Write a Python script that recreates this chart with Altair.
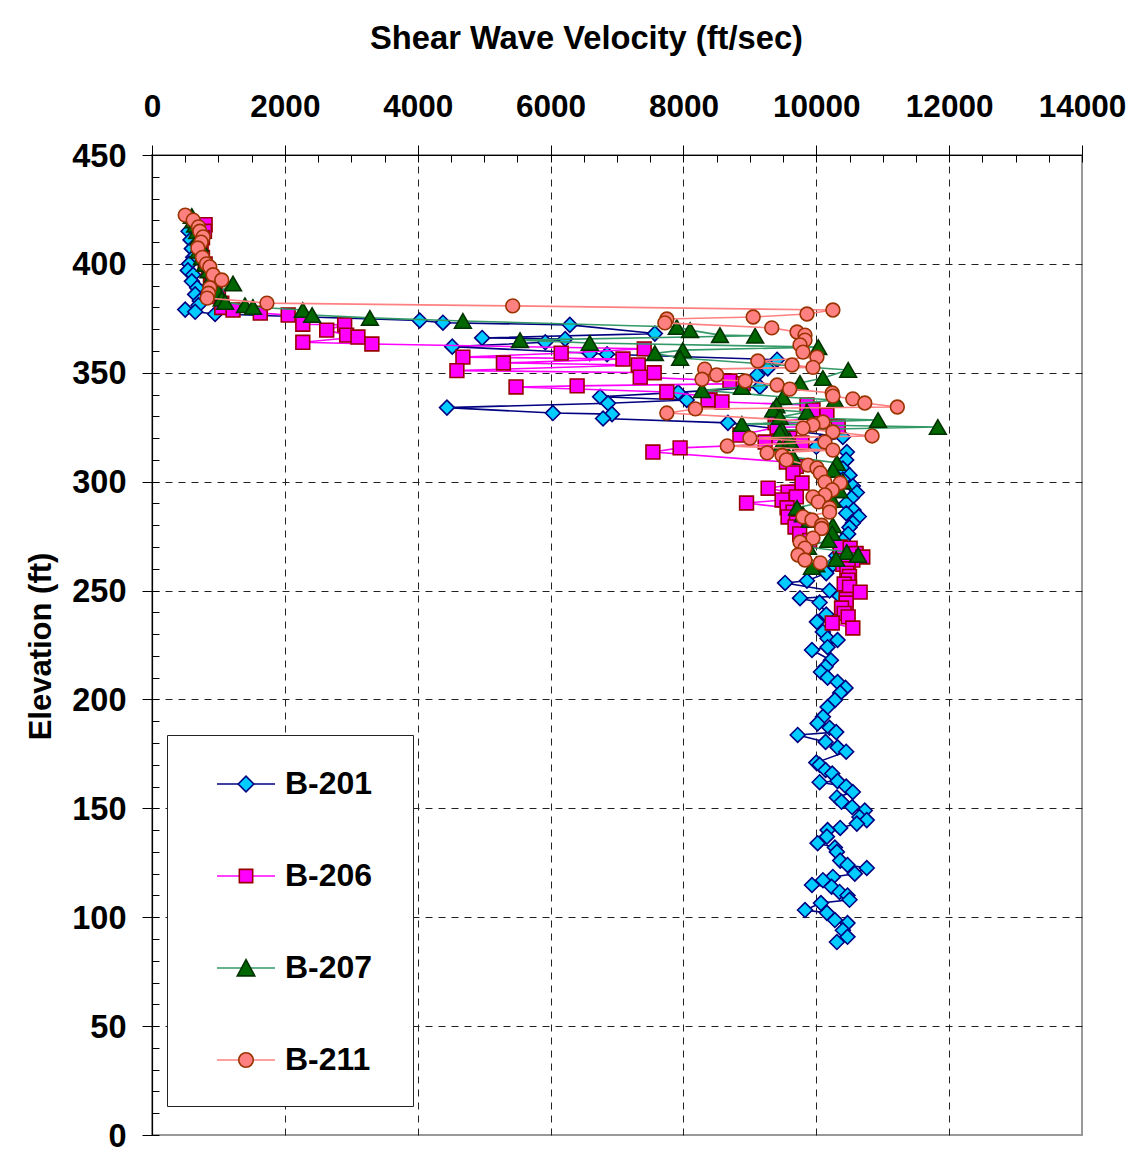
import altair as alt
import pandas as pd

series_names = ["B-201", "B-206", "B-207", "B-211"]

b201_elev = [415, 411, 407, 403, 400, 397, 395, 392, 389, 386, 383, 381, 379, 378, 377, 374, 373, 372, 368, 366,
             365.5, 364, 362, 359, 358.5, 356, 352, 349, 343.5, 341, 339, 337.5, 336, 334, 331.5, 331, 329, 327, 320.5, 318,
             316, 313.6, 310, 306, 303, 301, 298, 295, 292.5, 290, 287, 285.5, 284, 281, 279, 276, 273, 270, 266, 262,
             258, 254.5, 253.5, 250, 247.5, 246.5, 244.5, 239, 235.6, 231, 228, 227.3, 224, 222.7, 218, 215, 212.6, 210, 208, 205.3,
             203, 199.7, 196.5, 192, 189, 187, 185, 183.7, 180.5, 178, 176, 171, 170, 167.6, 166, 162.5, 162, 160, 157.5, 155,
             153, 150.6, 149, 146, 144.6, 143, 141, 140, 137, 134, 132, 130, 126, 124, 122.6, 120, 118.5, 117, 114.8, 114,
             111.6, 110, 108, 106.5, 103.3, 102, 98.7, 97.3, 94, 91, 88.6]
b201_vel = [550, 580, 600, 620, 560, 540, 620, 600, 680, 650, 720, 700, 500, 650, 950, 4030, 4380, 6290, 7570, 4970,
            6220, 5920, 4520, 6590, 6850, 9410, 9270, 9110, 9150, 7920, 6745, 8050, 6865, 4440, 6035, 6925, 6790, 8670, 10400, 10060,
            10000, 10460, 10450, 10400, 10500, 10400, 10550, 10610, 10530, 10450, 10560, 10450, 10640, 10550, 10500, 10480, 10400, 10350, 10300, 10250,
            10150, 9860, 9530, 10200, 10350, 9755, 10050, 10150, 10010, 10100, 10170, 10320, 10170, 9935, 10220, 10140, 10070, 10170, 10320, 10440,
            10360, 10280, 10170, 10100, 10020, 10200, 10300, 9720, 10140, 10320, 10450, 10000, 10050, 10140, 10240, 10320, 10050, 10450, 10550, 10310,
            10380, 10540, 10730, 10650, 10760, 10610, 10360, 10170, 10160, 10020, 10280, 10310, 10360, 10470, 10760, 10580, 10250, 10100, 9935, 10230,
            10350, 10470, 10500, 10070, 9830, 10160, 10280, 10470, 10400, 10470, 10310]

b206_elev = [418, 415, 412, 409, 406, 403, 400, 397, 394, 391, 388, 385, 382, 380, 378.8, 377.4, 376.5, 372.3, 372, 369.6,
             367.3, 366.4, 364, 363.2, 361, 359, 357.2, 356.3, 354.5, 353.6, 351, 350, 348, 346.2, 345, 344, 343.5, 341.2, 339, 337.5,
             336.6, 335.2, 333, 330.6, 327, 325.3, 325, 321.4, 320, 318.2, 317.8, 315.5, 313.6, 309, 307, 304, 299.4, 297, 295.2, 293,
             291.6, 290.2, 288, 286, 283.8, 281, 279.2, 276, 273, 270, 269.5, 267, 265.4, 264, 262, 260, 258, 256.5, 254.8, 253,
             251.6, 249.3, 246, 244.3, 242, 239.5, 237.9, 235.1, 232.8]
b206_vel = [800, 790, 760, 740, 720, 760, 800, 850, 880, 900, 950, 1000, 1050, 1050, 1220, 1630, 2050, 2270, 2900, 2630,
            2930, 3100, 2270, 3310, 7410, 6160, 4680, 7090, 5290, 7320, 4590, 7560, 7350, 8700, 8900, 6400, 5480, 7750, 8400, 8370,
            8580, 9860, 9950, 10160, 9380, 10330, 9410, 8850, 9600, 9230, 9785, 7950, 7540, 9550, 9700, 9650, 9785, 9275, 9575, 9700,
            9485, 8950, 9560, 9650, 9575, 9700, 9680, 9750, 9900, 10360, 10510, 10600, 10700, 10550, 10400, 10480, 10460, 10500, 10480, 10420,
            10500, 10660, 10450, 10450, 10380, 10420, 10480, 10240, 10550]

b207_elev = [422, 420, 418, 415, 412, 409, 406, 403, 400, 397, 394, 391, 387, 384, 382.5, 381, 380.2, 378.8, 376.5, 375.2,
             373.8, 371, 369.6, 367.3, 367, 365, 363.7, 361.8, 360.4, 359, 356.8, 351.3, 347.6, 345.3, 343.5, 342, 338.9, 337.5, 335, 333,
             332, 329.7, 328.3, 326.5, 325.1, 323.7, 322.8, 319, 316, 313.2, 311.3, 308.6, 305.4, 300, 296, 291.6, 288, 285, 282.4, 280,
             276.4, 273.2, 270, 267.7, 266.3, 264.5, 262, 260.8]
b207_vel = [600, 620, 650, 680, 700, 720, 700, 750, 800, 850, 900, 1220, 1000, 1050, 1100, 1400, 1520, 2270, 2410, 3280,
            4680, 7900, 8100, 8550, 9080, 5540, 6590, 10030, 7990, 7570, 7950, 10480, 10100, 9755, 8880, 8280, 9500, 10280, 9400, 9350,
            9860, 9450, 10930, 8880, 11830, 9485, 9450, 9600, 9450, 9560, 9650, 10310, 10250, 10400, 10350, 10240, 9710, 9800, 9905, 10250,
            10240, 10180, 9875, 10460, 10630, 10300, 10000, 9935]

b211_elev = [422.4, 420.1, 417, 415, 412.4, 410, 407.3, 403, 400, 398.6, 395, 392.6, 389, 386.5, 384.3, 382, 380.7, 378.8, 377, 375.6,
             374.7, 372.9, 370.6, 368.7, 367.3, 365, 362.8, 359.5, 357.2, 355.4, 353.6, 352.5, 351.7, 349, 347, 346.2, 344.4, 342.5, 340.7, 339.3,
             338, 336.1, 334.3, 333.4, 331.5, 327.4, 326, 324.6, 322.8, 321, 320, 318.2, 316.4, 314.5, 313.2, 312, 310, 307.6, 306.3, 304,
             299.8, 299.4, 296.2, 293.9, 293, 290.7, 288, 286, 283.8, 282.4, 280, 278.5, 274.1, 272.3, 269.5, 266.3, 264, 262.7]
b211_vel = [500, 620, 700, 720, 770, 740, 690, 760, 820, 870, 920, 1050, 870, 850, 830, 1730, 5430, 10250, 9860, 9050,
            7750, 7720, 9330, 9710, 9830, 9830, 9755, 9800, 10010, 9120, 9635, 9950, 8320, 8500, 8280, 8930, 9410, 9600, 10240, 10250,
            10550, 10730, 11220, 8180, 7750, 10100, 9950, 9800, 10250, 10840, 9000, 10130, 8660, 10250, 9260, 9485, 9550, 9875, 10010, 10060,
            10130, 10360, 10240, 10130, 9950, 10030, 10200, 10200, 9800, 9935, 10080, 10080, 9950, 9755, 9830, 9725, 9830, 10060]

x_major_ticks = [0, 2000, 4000, 6000, 8000, 10000, 12000, 14000]
y_major_ticks = [0, 50, 100, 150, 200, 250, 300, 350, 400, 450]

line_colors = ["#000080", "#FF00FF", "#339966", "#FF8080"]
fill_colors = ["#00CCFF", "#FF00FF", "#006600", "#FF8080"]
edge_colors = ["#000080", "#990000", "#003300", "#993300"]
shapes = ["diamond", "square", "triangle-up", "circle"]
sizes = [220, 190, 280, 190]

all_elev = [b201_elev, b206_elev, b207_elev, b211_elev]
all_vel = [b201_vel, b206_vel, b207_vel, b211_vel]

rows = []
for name, elevs, vels in zip(series_names, all_elev, all_vel):
    assert len(elevs) == len(vels), name
    for i, (e, v) in enumerate(zip(elevs, vels)):
        rows.append({"series": name, "elev": e, "vel": v, "idx": i})
data = pd.DataFrame(rows)

FONT = "Liberation Sans"
W, H = 930, 980
NBSP = "\u00a0"

xscale = alt.Scale(domain=[0, 14000], nice=False, zero=False)
yscale = alt.Scale(domain=[0, 450], nice=False, zero=False)

x_main = alt.Axis(orient="top", values=x_major_ticks, format="d", tickSize=10, tickColor="black", tickWidth=1,
                  domainColor="black", domainWidth=1.2, grid=False, labelFlush=False, labelOverlap=False,
                  labelFont=FONT, labelFontSize=31.5, labelFontWeight="bold", labelColor="black",
                  labelBaseline="alphabetic", labelPadding=29,
                  title="Shear Wave Velocity (ft/sec)", titleFont=FONT, titleFontSize=32.7,
                  titleFontWeight="bold", titleColor="black", titleX=434, titleY=-107,
                  titleBaseline="alphabetic", titleAlign="center")
x_grid = alt.Axis(orient="top", values=x_major_ticks[1:-1], grid=True, gridColor="#222222", gridDash=[7, 6],
                  gridWidth=1, domain=False, ticks=False, labels=False, title="")
x_minor = alt.Axis(orient="bottom", offset=-H, values=list(range(0, 14001, 500)), tickSize=7,
                   tickColor="black", tickWidth=1, domain=False, labels=False, grid=False, title="")

y_main = alt.Axis(orient="left", values=y_major_ticks, format="d", tickSize=10, tickColor="black", tickWidth=1,
                  domainColor="black", domainWidth=1.2, grid=False, labelFlush=False, labelOverlap=False,
                  labelFont=FONT, labelFontSize=32.5, labelFontWeight="bold", labelColor="black",
                  labelBaseline="alphabetic", labelOffset=11, labelPadding=16,
                  title="Elevation (ft)", titleFont=FONT, titleFontSize=31, titleFontWeight="bold",
                  titleColor="black", titleAngle=270, titleX=-102, titleY=491,
                  titleBaseline="alphabetic", titleAlign="center")
y_grid = alt.Axis(orient="left", values=y_major_ticks[1:-1], grid=True, gridColor="#222222", gridDash=[7, 6],
                  gridWidth=1, domain=False, ticks=False, labels=False, title="")
y_minor = alt.Axis(orient="right", offset=-W, values=list(range(0, 451, 10)), tickSize=7,
                   tickColor="black", tickWidth=1, domain=False, labels=False, grid=False, title="")

axes_x = [x_grid, x_main, x_minor, None, None, None, None, None]
axes_y = [y_grid, y_main, y_minor, None, None, None, None, None]

layers = []
k = 0
for i, name in enumerate(series_names):
    base = alt.Chart(data).transform_filter(alt.datum.series == name)
    line = base.mark_line(color=line_colors[i], strokeWidth=1.6).encode(
        x=alt.X("vel:Q", scale=xscale, axis=axes_x[k]),
        y=alt.Y("elev:Q", scale=yscale, axis=axes_y[k]),
        order=alt.Order("idx:Q"),
    )
    k += 1
    pts = base.mark_point(shape=shapes[i], filled=True, fill=fill_colors[i], stroke=edge_colors[i],
                          strokeWidth=1.6, size=sizes[i], opacity=1).encode(
        x=alt.X("vel:Q", scale=xscale, axis=axes_x[k]),
        y=alt.Y("elev:Q", scale=yscale, axis=axes_y[k]),
    )
    k += 1
    layers += [line, pts]

# legend (built from the scales of two empty layers drawn on top of each other)
pad_move = "M0,0.79"
tail_path = "M-1,0L1,0" + pad_move
marker_paths = [
    "M-0.27,0L0,-0.27L0.27,0L0,0.27Z" + pad_move,
    "M-0.23,-0.23L0.23,-0.23L0.23,0.23L-0.23,0.23Z" + pad_move,
    "M0,-0.29L0.3,0.27L-0.3,0.27Z" + pad_move,
    "M0.25,0A0.25,0.25,0,1,1,-0.25,0A0.25,0.25,0,1,1,0.25,0Z" + pad_move,
]

common_leg = dict(orient="none", legendX=15, legendY=580, direction="vertical",
                  title=NBSP, titleOrient="right", titleFontSize=2, titlePadding=22,
                  padding=19, rowPadding=35, symbolSize=3364, symbolOffset=30, labelOffset=9,
                  symbolStrokeWidth=1.6, labelFont=FONT, labelFontSize=32, labelFontWeight="bold",
                  labelColor="black", labelLimit=400, cornerRadius=0)
leg1 = alt.Legend(fillColor="white", strokeColor="#222222", **common_leg)
leg2 = alt.Legend(labelOpacity=0, **common_leg)

leg_base = alt.Chart(data).transform_filter("false")
L1 = leg_base.mark_point(filled=False, opacity=1, strokeWidth=1.6).encode(
    shape=alt.Shape("series:N", scale=alt.Scale(domain=series_names, range=[tail_path] * 4), legend=leg1),
    stroke=alt.Stroke("series:N", scale=alt.Scale(domain=series_names, range=line_colors), legend=leg1),
)
L2 = leg_base.mark_point(filled=True, opacity=1, strokeWidth=1.6).encode(
    shape=alt.Shape("series:N", scale=alt.Scale(domain=series_names, range=marker_paths), legend=leg2),
    fill=alt.Fill("series:N", scale=alt.Scale(domain=series_names, range=fill_colors), legend=leg2),
    stroke=alt.Stroke("series:N", scale=alt.Scale(domain=series_names, range=edge_colors), legend=leg2),
)

chart = alt.layer(*layers, L1, L2).resolve_axis(
    x="independent", y="independent"
).resolve_scale(
    shape="independent", fill="independent", stroke="independent"
).resolve_legend(
    shape="independent", fill="independent", stroke="independent"
).properties(
    width=W, height=H,
    padding={"left": 144, "top": 147, "right": 44, "bottom": 18},
    autosize=alt.AutoSizeParams(type="none"),
    background="white",
).configure_view(
    stroke="#999999", strokeWidth=2
)

chart.save("out.html", embed_options={"renderer": "svg", "actions": False})
